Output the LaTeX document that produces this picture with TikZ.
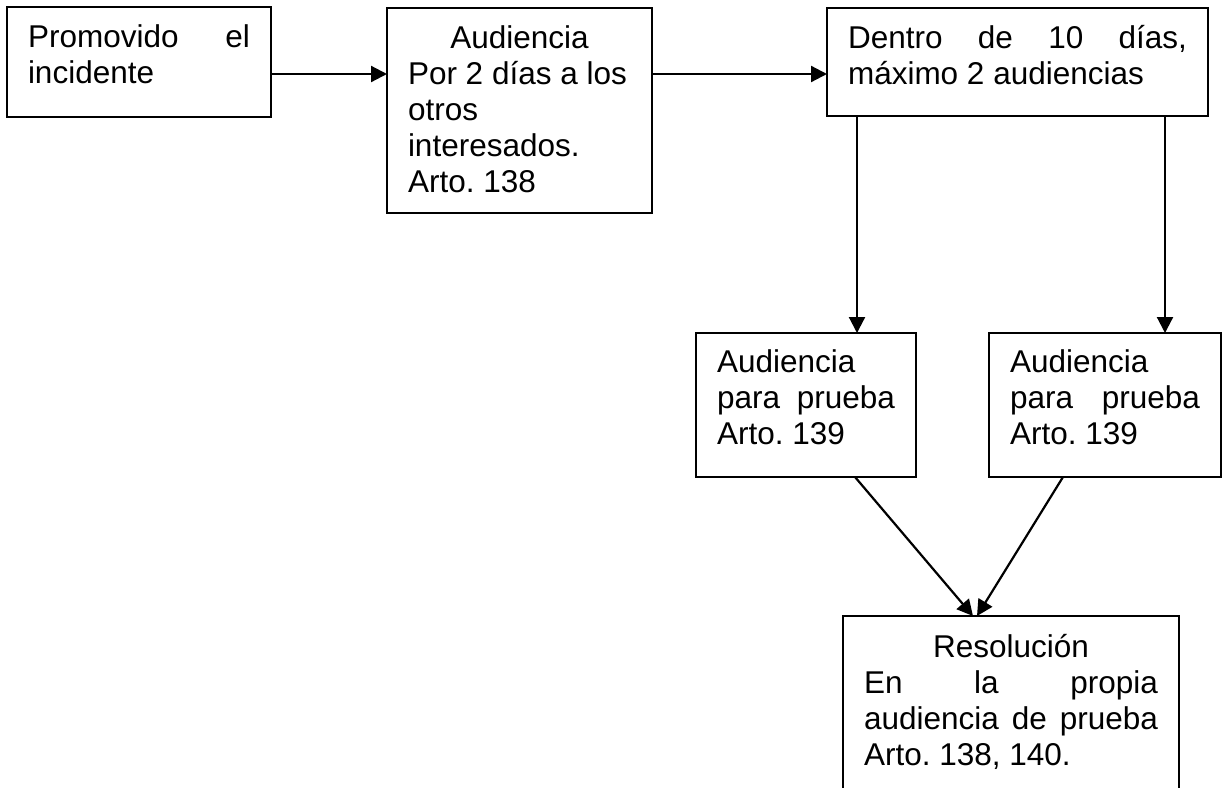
\documentclass[tikz,border=0pt]{standalone}
\usepackage{fontspec}
\setmainfont{Liberation Sans}
\usetikzlibrary{arrows.meta}
\newcommand{\fullline}[1]{\leavevmode\hbox to\linewidth{#1}}
\begin{document}
\begin{tikzpicture}[x=1pt,y=-1pt,
  box/.style={draw, line width=2pt, anchor=north west, inner xsep=21pt, inner ysep=0pt,
    outer sep=0pt, align=left, font=\fontsize{31.5}{36}\selectfont,
    execute at begin node={\spaceskip=0pt\relax\xspaceskip=0pt\relax\frenchspacing}},
  arr/.style={line width=2.2pt, -{Triangle[length=16pt,width=16pt]}}]
\path[use as bounding box, clip] (0,0) rectangle (1225,787);

\node[box, text width=222pt, text height=40pt, text depth=70pt] (b1) at (7,7)
  {\fullline{Promovido\hfill el}\\incidente};
\node[box, text width=223pt, text height=40pt, text depth=165pt] (b2) at (387,8)
  {\fullline{\hfill Audiencia\hfill}\\\mbox{Por 2 días a los}\\otros\\interesados.\\Arto. 138};
\node[box, text width=339pt, text height=40pt, text depth=68pt] (b3) at (827,8)
  {\fullline{Dentro\hfill de\hfill 10\hfill días,}\\máximo 2 audiencias};
\node[box, text width=178pt, text height=39pt, text depth=105pt] (b4) at (696,333)
  {Audiencia\\\fullline{para\hfill prueba}\\Arto. 139};
\node[box, text width=190pt, text height=39pt, text depth=105pt] (b5) at (989,333)
  {Audiencia\\\fullline{para\hfill prueba}\\Arto. 139};
\node[box, text width=294pt, text height=41pt, text depth=139pt] (b6) at (843,616)
  {\fullline{\hfill Resolución\hfill}\\\fullline{En\hfill la\hfill propia}\\\fullline{audiencia\hfill de\hfill prueba}\\Arto. 138, 140.};

\coordinate (ya) at (0,74);
\draw[arr] (b1.east |- ya) -- (b2.west |- ya);
\draw[arr] (b2.east |- ya) -- (b3.west |- ya);
\draw[arr] ([xshift=30pt]b3.south west) -- ([xshift=161pt]b4.north west);
\draw[arr] ([xshift=-43pt]b3.south east) -- ([xshift=176pt]b5.north west);
\draw[arr] ([xshift=159pt]b4.south west) -- ([xshift=130pt]b6.north west);
\draw[arr] ([xshift=74pt]b5.south west) -- ([xshift=134pt]b6.north west);
\end{tikzpicture}
\end{document}
